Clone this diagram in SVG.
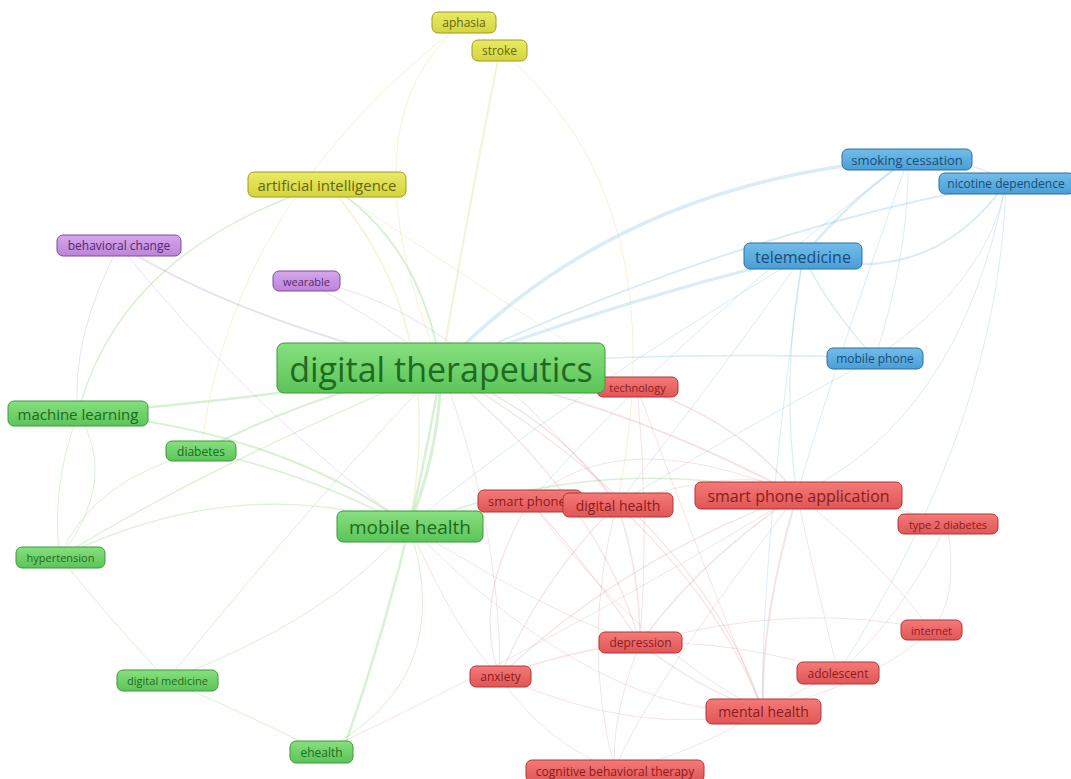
<svg xmlns="http://www.w3.org/2000/svg" width="1071" height="779" viewBox="0 0 1071 779">
<defs>
<linearGradient id="gG" x1="0" y1="0" x2="0" y2="1"><stop offset="0" stop-color="#86e07e"/><stop offset="1" stop-color="#5cc45a"/></linearGradient>
<linearGradient id="gR" x1="0" y1="0" x2="0" y2="1"><stop offset="0" stop-color="#f47a78"/><stop offset="1" stop-color="#e05656"/></linearGradient>
<linearGradient id="gB" x1="0" y1="0" x2="0" y2="1"><stop offset="0" stop-color="#72bdea"/><stop offset="1" stop-color="#4a9ed6"/></linearGradient>
<linearGradient id="gY" x1="0" y1="0" x2="0" y2="1"><stop offset="0" stop-color="#eaea66"/><stop offset="1" stop-color="#d4d43e"/></linearGradient>
<linearGradient id="gP" x1="0" y1="0" x2="0" y2="1"><stop offset="0" stop-color="#d6a6ec"/><stop offset="1" stop-color="#bc84d8"/></linearGradient>
</defs>
<style>
text{font-family:"Open Sans","Noto Sans","Liberation Sans",sans-serif;text-anchor:middle;dominant-baseline:central}
.n rect{stroke-width:1}
.g rect{fill:url(#gG);stroke:#3d9a3a}.g text{fill:#1e6a1e}
.r rect{fill:url(#gR);stroke:#b33434}.r text{fill:#8a1c1c}
.b rect{fill:url(#gB);stroke:#2b6f9f}.b text{fill:#1a4c78}
.y rect{fill:url(#gY);stroke:#9c9c1e}.y text{fill:#66660e}
.p rect{fill:url(#gP);stroke:#7d4d9c}.p text{fill:#55276f}
#edges path{fill:none;stroke-linecap:round}
.eg{stroke:#7fcf6c;stroke-opacity:.3}
.er{stroke:#d88080;stroke-opacity:.22}
.eb{stroke:#86bfe0;stroke-opacity:.3}
.ey{stroke:#d8dc70;stroke-opacity:.3}
.ep{stroke:#b8a0d0;stroke-opacity:.3}
</style>
<rect width="1071" height="779" fill="#fff"/>
<g id="edges">
<path class="eg" stroke-width="3" d="M441,368 Q440,450 409,526"/>
<path class="eg" stroke-width="2.5" d="M441,368 Q410,560 345,745"/>
<path class="eg" stroke-width="2.5" d="M78,413 Q260,400 441,368"/>
<path class="eg" stroke-width="2" d="M78,413 Q280,430 409,526"/>
<path class="eg" stroke-width="2" d="M201,451 Q320,390 441,368"/>
<path class="eg" stroke-width="1.5" d="M201,451 Q300,470 409,526"/>
<path class="eg" stroke-width="1.2" d="M60,557 Q200,470 441,368"/>
<path class="eg" stroke-width="1.2" d="M60,557 Q240,470 409,526"/>
<path class="eg" stroke-width="1" d="M78,413 Q120,480 60,557"/>
<path class="eg" stroke-width="1" d="M78,413 Q50,490 60,557"/>
<path class="eg" stroke-width="1.5" d="M78,413 Q120,250 327,184"/>
<path class="eg" stroke-width="2" d="M327,184 Q420,240 441,368"/>
<path class="eg" stroke-width="1" d="M167,680 Q330,620 409,526"/>
<path class="eg" stroke-width="1" d="M167,680 Q330,480 441,368"/>
<path class="eg" stroke-width="1" d="M60,557 Q110,620 167,680"/>
<path class="eg" stroke-width="1" d="M201,451 Q90,480 60,557"/>
<path class="eg" stroke-width="1" d="M321,752 Q460,680 409,526"/>
<path class="eg" stroke-width="1" d="M167,680 Q260,720 321,752"/>
<path class="eg" stroke-width="1.5" d="M409,526 Q520,500 617,504"/>
<path class="eg" stroke-width="1.5" d="M409,526 Q600,450 797,495"/>
<path class="ey" stroke-width="2" d="M500,50 Q470,200 441,368"/>
<path class="ey" stroke-width="1" d="M464,22 Q340,120 441,368"/>
<path class="ey" stroke-width="1" d="M464,22 Q480,36 500,50"/>
<path class="ey" stroke-width="1" d="M500,50 Q680,200 617,504"/>
<path class="ey" stroke-width="1" d="M464,22 Q230,200 201,451"/>
<path class="ey" stroke-width="1.5" d="M327,184 Q450,320 409,526"/>
<path class="ey" stroke-width="1" d="M327,184 Q500,300 637,387"/>
<path class="ep" stroke-width="2" d="M119,245 Q240,320 441,368"/>
<path class="ep" stroke-width="1" d="M119,245 Q260,420 409,526"/>
<path class="ep" stroke-width="1" d="M306,281 Q380,320 441,368"/>
<path class="ep" stroke-width="1" d="M306,281 Q450,300 617,504"/>
<path class="ep" stroke-width="1" d="M119,245 Q70,340 78,413"/>
<path class="eb" stroke-width="3.5" d="M441,368 Q620,180 908,159"/>
<path class="eb" stroke-width="2" d="M441,368 Q740,230 1006,183"/>
<path class="eb" stroke-width="3" d="M441,368 Q620,300 803,256"/>
<path class="eb" stroke-width="1.5" d="M441,368 Q660,350 875,358"/>
<path class="eb" stroke-width="2.5" d="M803,256 Q850,200 908,159"/>
<path class="eb" stroke-width="2" d="M803,256 Q930,290 1006,183"/>
<path class="eb" stroke-width="1.5" d="M908,159 Q980,160 1006,183"/>
<path class="eb" stroke-width="1.5" d="M803,256 Q830,310 875,358"/>
<path class="eb" stroke-width="1" d="M875,358 Q910,250 908,159"/>
<path class="eb" stroke-width="1" d="M875,358 Q990,280 1006,183"/>
<path class="eb" stroke-width="1.2" d="M803,256 Q780,380 797,495"/>
<path class="eb" stroke-width="1" d="M908,159 Q830,380 797,495"/>
<path class="eb" stroke-width="1" d="M1006,183 Q960,420 797,495"/>
<path class="eb" stroke-width="1" d="M803,256 Q700,400 617,504"/>
<path class="eb" stroke-width="1" d="M908,159 Q680,330 530,501"/>
<path class="eb" stroke-width="1" d="M803,256 Q760,560 763,711"/>
<path class="eb" stroke-width="1" d="M1006,183 Q1000,420 838,673"/>
<path class="eb" stroke-width="1" d="M875,358 Q740,430 617,504"/>
<path class="eb" stroke-width="1" d="M803,256 Q560,400 409,526"/>
<path class="er" stroke-width="2" d="M441,368 Q620,400 797,495"/>
<path class="er" stroke-width="1.5" d="M441,368 Q540,390 637,387"/>
<path class="er" stroke-width="1.5" d="M441,368 Q560,420 617,504"/>
<path class="er" stroke-width="1.2" d="M441,368 Q600,500 640,643"/>
<path class="er" stroke-width="1.2" d="M441,368 Q700,520 763,711"/>
<path class="er" stroke-width="1" d="M441,368 Q500,520 500,676"/>
<path class="er" stroke-width="1.5" d="M637,387 Q740,420 797,495"/>
<path class="er" stroke-width="1" d="M637,387 Q650,520 640,643"/>
<path class="er" stroke-width="1" d="M637,387 Q700,560 763,711"/>
<path class="er" stroke-width="2" d="M797,495 Q760,620 763,711"/>
<path class="er" stroke-width="1.5" d="M797,495 Q700,560 640,643"/>
<path class="er" stroke-width="1.2" d="M797,495 Q620,560 500,676"/>
<path class="er" stroke-width="1" d="M797,495 Q880,500 947,524"/>
<path class="er" stroke-width="1" d="M797,495 Q820,600 838,673"/>
<path class="er" stroke-width="1" d="M797,495 Q880,560 931,630"/>
<path class="er" stroke-width="1" d="M797,495 Q640,700 615,770"/>
<path class="er" stroke-width="1.5" d="M617,504 Q640,570 640,643"/>
<path class="er" stroke-width="1.2" d="M617,504 Q540,580 500,676"/>
<path class="er" stroke-width="1.2" d="M617,504 Q720,600 763,711"/>
<path class="er" stroke-width="1" d="M617,504 Q580,640 615,770"/>
<path class="er" stroke-width="1" d="M617,504 Q760,460 797,495"/>
<path class="er" stroke-width="1.2" d="M530,501 Q600,580 640,643"/>
<path class="er" stroke-width="1.2" d="M530,501 Q470,600 500,676"/>
<path class="er" stroke-width="1" d="M530,501 Q640,650 763,711"/>
<path class="er" stroke-width="1" d="M530,501 Q620,420 797,495"/>
<path class="er" stroke-width="1.5" d="M640,643 Q570,650 500,676"/>
<path class="er" stroke-width="1.5" d="M640,643 Q700,690 763,711"/>
<path class="er" stroke-width="1" d="M640,643 Q610,720 615,770"/>
<path class="er" stroke-width="1" d="M640,643 Q740,640 838,673"/>
<path class="er" stroke-width="1" d="M640,643 Q800,600 931,630"/>
<path class="er" stroke-width="1" d="M500,676 Q640,740 763,711"/>
<path class="er" stroke-width="1" d="M500,676 Q540,740 615,770"/>
<path class="er" stroke-width="1" d="M763,711 Q800,690 838,673"/>
<path class="er" stroke-width="1" d="M763,711 Q680,760 615,770"/>
<path class="er" stroke-width="1" d="M763,711 Q880,680 931,630"/>
<path class="er" stroke-width="1" d="M947,524 Q960,600 931,630"/>
<path class="er" stroke-width="1" d="M947,524 Q900,620 838,673"/>
<path class="er" stroke-width="1" d="M409,526 Q560,620 640,643"/>
<path class="er" stroke-width="1" d="M409,526 Q460,640 500,676"/>
<path class="er" stroke-width="1" d="M409,526 Q600,720 763,711"/>
<path class="er" stroke-width="1" d="M321,752 Q560,640 797,495"/>
</g>
<g id="n-aphasia" class="n y"><rect x="432" y="12" width="64" height="21" rx="6"/><text x="464" y="22.5" font-size="12">aphasia</text></g>
<g id="n-stroke" class="n y"><rect x="472" y="40" width="55" height="21" rx="6"/><text x="499.5" y="50.5" font-size="12">stroke</text></g>
<g id="n-ai" class="n y"><rect x="248" y="172" width="158" height="25" rx="6"/><text x="327" y="184.5" font-size="15">artificial intelligence</text></g>
<g id="n-behavioral" class="n p"><rect x="57" y="235" width="124" height="21" rx="6"/><text x="119" y="245.5" font-size="12">behavioral change</text></g>
<g id="n-wearable" class="n p"><rect x="273" y="271" width="67" height="20" rx="6"/><text x="306.5" y="281" font-size="11">wearable</text></g>
<g id="n-smoking" class="n b"><rect x="842" y="149" width="130" height="21" rx="6"/><text x="907" y="159.5" font-size="13">smoking cessation</text></g>
<g id="n-nicotine" class="n b"><rect x="939" y="173" width="136" height="21" rx="6"/><text x="1006" y="183.5" font-size="12">nicotine dependence</text></g>
<g id="n-telemedicine" class="n b"><rect x="744" y="243" width="118" height="26" rx="6"/><text x="803" y="256.5" font-size="16">telemedicine</text></g>
<g id="n-mobilephone" class="n b"><rect x="827" y="348" width="96" height="21" rx="6"/><text x="875" y="358.5" font-size="12">mobile phone</text></g>
<g id="n-technology" class="n r"><rect x="597" y="377" width="81" height="20" rx="6"/><text x="637.5" y="387" font-size="11">technology</text></g>
<g id="n-dt" class="n g"><rect x="277" y="343" width="328" height="50" rx="7"/><text x="441" y="368.5" font-size="34">digital therapeutics</text></g>
<g id="n-ml" class="n g"><rect x="8" y="401" width="140" height="25" rx="6"/><text x="78" y="413.5" font-size="15">machine learning</text></g>
<g id="n-diabetes" class="n g"><rect x="166" y="441" width="70" height="20" rx="6"/><text x="201" y="451" font-size="12">diabetes</text></g>
<g id="n-smartphone" class="n r"><rect x="478" y="490" width="104" height="22" rx="6"/><text x="527" y="501" font-size="13">smart phone</text></g>
<g id="n-digitalhealth" class="n r"><rect x="563" y="493" width="110" height="24" rx="6"/><text x="618" y="505" font-size="14">digital health</text></g>
<g id="n-spa" class="n r"><rect x="695" y="482" width="207" height="27" rx="6"/><text x="798.5" y="495.5" font-size="16">smart phone application</text></g>
<g id="n-t2d" class="n r"><rect x="898" y="514" width="100" height="20" rx="6"/><text x="948" y="524" font-size="11">type 2 diabetes</text></g>
<g id="n-mh" class="n g"><rect x="337" y="511" width="146" height="31" rx="6"/><text x="410" y="526.5" font-size="19">mobile health</text></g>
<g id="n-hypertension" class="n g"><rect x="16" y="547" width="89" height="21" rx="6"/><text x="60.5" y="557.5" font-size="11">hypertension</text></g>
<g id="n-depression" class="n r"><rect x="599" y="632" width="83" height="21" rx="6"/><text x="640.5" y="642.5" font-size="12">depression</text></g>
<g id="n-internet" class="n r"><rect x="901" y="620" width="61" height="20" rx="6"/><text x="931.5" y="630" font-size="11">internet</text></g>
<g id="n-anxiety" class="n r"><rect x="470" y="666" width="61" height="21" rx="6"/><text x="500.5" y="676.5" font-size="12">anxiety</text></g>
<g id="n-adolescent" class="n r"><rect x="797" y="662" width="82" height="22" rx="6"/><text x="838" y="673" font-size="12">adolescent</text></g>
<g id="n-digitalmedicine" class="n g"><rect x="117" y="670" width="101" height="21" rx="6"/><text x="167.5" y="680.5" font-size="11">digital medicine</text></g>
<g id="n-mentalhealth" class="n r"><rect x="706" y="699" width="115" height="25" rx="6"/><text x="763.5" y="711.5" font-size="14">mental health</text></g>
<g id="n-ehealth" class="n g"><rect x="290" y="741" width="63" height="22" rx="6"/><text x="321.5" y="752" font-size="12">ehealth</text></g>
<g id="n-cbt" class="n r"><rect x="526" y="760" width="178" height="22" rx="6"/><text x="615" y="771" font-size="12">cognitive behavioral therapy</text></g>
</svg>
